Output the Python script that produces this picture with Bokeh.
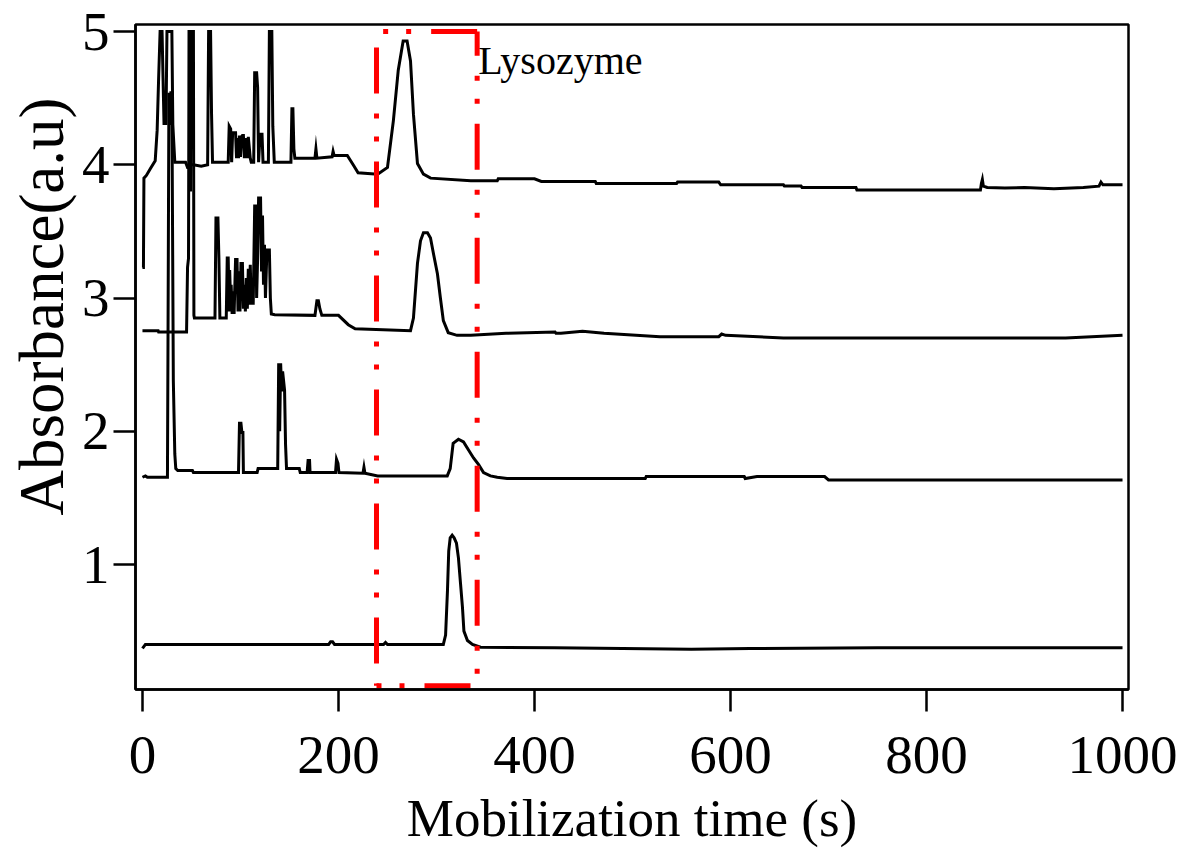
from bokeh.plotting import figure
from bokeh.models import Range1d, FixedTicker, Label, Title
from bokeh.embed import file_html
from bokeh.resources import INLINE

# ---------------- data ----------------
x_ticks = [0, 200, 400, 600, 800, 1000]
y_ticks = [1, 2, 3, 4, 5]
x_label = "Mobilization time (s)"
y_label = "Absorbance(a.u)"
annot_text = "Lysozyme"

# trace 1 (bottom)
t1_x = [0, 1, 3, 190, 192, 194, 196, 246, 248, 250, 307, 309.3, 311.2, 312.5, 314, 316, 318,
        320.4, 322.4, 324.5, 326.5, 328, 331.6, 336.7, 345, 420, 560, 620, 750, 1000]
t1_y = [0.37, 0.38, 0.40, 0.40, 0.42, 0.42, 0.40, 0.40, 0.415, 0.40, 0.40, 0.47, 0.80, 1.10, 1.20, 1.22, 1.20,
        1.16, 1.05, 0.86, 0.68, 0.50, 0.43, 0.40, 0.38, 0.375, 0.365, 0.37, 0.375, 0.375]

# trace 2
t2_x = [0, 3, 5, 25.5, 26, 27, 28, 29, 30, 31.5, 33, 34, 36, 51, 52, 98, 99, 100.5, 101.5, 102.5, 103,
        117, 118, 138, 139, 140, 141, 142, 143, 145, 146, 147, 160, 161, 168, 169, 170.5, 171,
        197, 198, 199.5, 200.5, 225, 226, 227, 240, 311, 314, 317, 322.4, 327.6, 332.7, 337.8,
        343, 348, 355, 362, 372, 513, 514, 614, 615, 627, 696, 700, 1000]
t2_y = [1.655, 1.665, 1.655, 1.655, 2.55, 4.54, 4.30, 4.54, 4.54, 2.38, 1.83, 1.72, 1.705, 1.705, 1.69, 1.69, 2.06, 2.06, 1.99, 1.99, 1.69,
        1.69, 1.72, 1.72, 2.51, 2.00, 2.51, 2.30, 2.45, 2.31, 1.90, 1.72, 1.72, 1.69, 1.69, 1.78, 1.78, 1.69,
        1.69, 1.79, 1.76, 1.69, 1.685, 1.73, 1.685, 1.665, 1.665, 1.72, 1.91, 1.94, 1.92, 1.86, 1.80,
        1.75, 1.69, 1.665, 1.655, 1.645, 1.645, 1.66, 1.66, 1.645, 1.66, 1.66, 1.635, 1.635]

# trace 3
t3_x = [0, 16, 16.5, 45, 46, 47, 47.5, 48.5, 49, 49.5, 52, 52.5, 53, 74, 75, 77, 78, 79,
        85.5, 86.5, 87.5, 88.5, 89, 90, 90.5, 91.5, 92.5, 93.5, 95, 96.5, 97.5, 98.5, 99.5, 100.5, 102,
        103, 104, 105, 106, 107, 108, 109, 110, 111, 112, 113, 114.5, 115.5, 116.5, 117.5, 118.5,
        120.5, 121.5, 122.5, 123.5, 124.5, 125.5, 127, 129.5, 130.5, 131.5, 135,
        176, 178, 179.5, 181, 183, 200, 210, 217, 273.5, 276.5, 280.6, 283.7, 286.7, 290.8,
        293.9, 297, 301, 304, 307, 312, 321, 335, 371, 421, 422, 427, 449, 471, 528, 588,
        591, 595, 654, 942, 1000]
t3_y = [2.755, 2.755, 2.745, 2.745, 3.23, 3.30, 5.0, 5.0, 3.80, 5.0, 5.0, 2.87, 2.85, 2.85, 3.60, 3.60, 3.30, 2.85,
        2.85, 3.30, 3.30, 2.90, 3.21, 2.95, 3.10, 2.88, 3.05, 2.88, 3.29, 3.29, 2.90, 3.20, 2.90, 3.26, 3.26,
        2.92, 3.10, 2.90, 3.15, 2.92, 3.22, 2.95, 3.25, 2.95, 3.10, 2.95, 3.69, 3.69, 3.00, 3.30, 3.75,
        3.75, 3.20, 3.62, 3.10, 3.40, 3.00, 3.36, 3.36, 3.00, 2.88, 2.875,
        2.87, 2.98, 2.98, 2.92, 2.87, 2.87, 2.80, 2.77, 2.755, 2.85, 3.26, 3.43, 3.49, 3.49,
        3.45, 3.33, 3.18, 3.00, 2.83, 2.74, 2.72, 2.72, 2.735, 2.745, 2.735, 2.735, 2.75, 2.735, 2.71, 2.71,
        2.73, 2.72, 2.70, 2.70, 2.72]

# trace 4 (top)
t4_x = [0, 1, 1.5, 4, 8, 13, 15, 16.5, 18, 20, 21, 22, 24, 25, 30, 31, 33, 44, 46, 47, 48, 52, 60,
        66.5, 67.5, 69.5, 70.5, 71.5, 87.5, 88.5, 90, 91, 92, 95, 96, 97, 98, 99, 100, 101, 102, 103, 104,
        105, 106, 107, 108, 110, 111, 113.5, 114.5, 116.5, 117.5, 118.5, 120, 122, 123, 128.5, 129.5,
        132, 133, 134.5, 151.5, 152.5, 153.5, 154.5, 155.5, 176, 177, 178, 193.5, 194.5, 195.5,
        209, 215, 220, 240, 250, 256, 261, 266, 270, 273.5, 276.5, 280.6, 286.7, 294, 335, 362,
        363, 400, 407, 462, 463, 545, 546, 588, 590, 654, 655, 672, 673, 728, 729, 855, 856, 857,
        858, 862, 880, 900, 930, 960, 976, 978, 980, 985, 1000]
t4_y = [3.23, 3.23, 3.90, 3.92, 3.97, 4.03, 4.26, 4.65, 5.0, 5.0, 4.65, 4.31, 4.31, 5.0, 5.0, 4.30, 4.02, 4.02, 3.98, 3.98, 4.00, 4.00, 3.99,
        4.00, 5.0, 5.0, 4.38, 4.02, 4.02, 4.29, 4.27, 4.02, 4.24, 4.24, 4.05, 4.20, 4.05, 4.22, 4.06, 4.21, 4.22, 4.22, 4.05,
        4.15, 4.20, 4.05, 4.21, 4.05, 4.02, 4.02, 4.69, 4.69, 4.58, 4.02, 4.23, 4.23, 4.02, 4.02, 5.0,
        5.0, 4.29, 4.02, 4.02, 4.42, 4.42, 4.12, 4.05, 4.05, 4.12, 4.05, 4.06, 4.10, 4.07,
        4.07, 4.00, 3.94, 3.93, 3.98, 4.33, 4.71, 4.93, 4.93, 4.78, 4.38, 4.01, 3.93, 3.90, 3.88, 3.88,
        3.895, 3.895, 3.875, 3.875, 3.86, 3.86, 3.87, 3.87, 3.85, 3.85, 3.84, 3.84, 3.83, 3.83, 3.81, 3.81, 3.86, 3.89,
        3.84, 3.83, 3.825, 3.83, 3.82, 3.83, 3.84, 3.87, 3.85, 3.85, 3.85]

# highlighted window (dash-dot-dot box)
box_left, box_right = 238.8, 341.5
box_bottom, box_top = 0.09, 5.0
annot_x, annot_y = 342.5, 4.785

# ---------------- figure ----------------
FONT = "Liberation Serif"
p = figure(frame_width=993, frame_height=665,
           x_range=Range1d(-7.1, 1006.1), y_range=Range1d(0.062, 5.053),
           output_backend="svg", toolbar_location=None,
           min_border_left=135, min_border_top=24, min_border_right=51, min_border_bottom=158)
p.grid.visible = False
p.background_fill_color = "white"
p.border_fill_color = "white"
p.outline_line_color = "black"
p.outline_line_width = 2.5

for ax in (p.xaxis[0], p.yaxis[0]):
    ax.axis_line_width = 2.5
    ax.axis_line_color = "black"
    ax.major_tick_line_width = 2.5
    ax.major_tick_line_color = "black"
    ax.major_tick_in = 0
    ax.major_tick_out = 22
    ax.minor_tick_line_color = None
    ax.major_label_text_font = FONT
    ax.major_label_text_color = "black"
    ax.axis_label_text_font = FONT
    ax.axis_label_text_font_style = "normal"
    ax.axis_label_text_color = "black"

p.xaxis.ticker = FixedTicker(ticks=x_ticks)
p.yaxis.ticker = FixedTicker(ticks=y_ticks)
p.xaxis.major_label_text_font_size = "55px"
p.yaxis.major_label_text_font_size = "55px"
p.xaxis.axis_label = x_label
p.xaxis.axis_label_text_font_size = "53px"
p.xaxis.major_label_standoff = 25
p.yaxis.major_label_standoff = 4
p.xaxis.axis_label_standoff = 13

ytitle = Title(text=y_label, align="left", offset=174, text_font=FONT, text_font_size="63px",
               text_font_style="normal", text_color="black", standoff=4)
p.add_layout(ytitle, "left")

for xs, ys in ((t1_x, t1_y), (t2_x, t2_y), (t3_x, t3_y), (t4_x, t4_y)):
    p.line(xs, ys, line_color="black", line_width=3, line_join="miter")

dash = "46 20 5 18 5 20"
red = "#ff0000"
p.line([box_left, box_left], [box_top, box_bottom], line_color=red, line_width=5, line_dash=dash, line_dash_offset=98)
p.line([box_left, box_right], [box_bottom, box_bottom], line_color=red, line_width=5, line_dash=dash, line_dash_offset=66)
p.line([box_right, box_right], [box_bottom, box_top], line_color=red, line_width=5, line_dash=dash, line_dash_offset=54)
p.line([box_right, box_left], [box_top, box_top], line_color=red, line_width=5, line_dash=dash, line_dash_offset=0)

p.add_layout(Label(x=annot_x, y=annot_y, text=annot_text, text_font=FONT, text_font_size="40px",
                   text_color="black", text_baseline="alphabetic", text_align="left"))

open("out.html", "w").write(file_html(p, INLINE))
